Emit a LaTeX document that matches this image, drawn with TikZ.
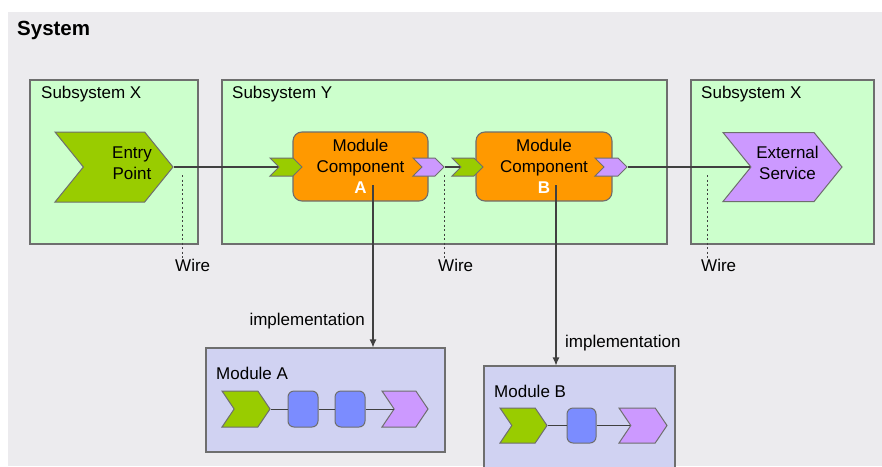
\documentclass[tikz,border=0pt]{standalone}
\usepackage{fontspec}
\setmainfont{Liberation Sans}
\usetikzlibrary{shapes.symbols,arrows.meta}

\definecolor{sysgray}{HTML}{ECEBEE}
\definecolor{subgreen}{HTML}{CCFFCC}
\definecolor{portgreen}{HTML}{99CC00}
\definecolor{portlilac}{HTML}{CC99FF}
\definecolor{comporange}{HTML}{FF9900}
\definecolor{modlilac}{HTML}{D0D2F2}
\definecolor{stepblue}{HTML}{7B8CFF}
\definecolor{edgegray}{HTML}{6E6E6E}
\definecolor{wiregray}{HTML}{404040}

\begin{document}
\begin{tikzpicture}[x=1pt, y=-1pt,
        font=\fontsize{17}{21}\selectfont,
        sub/.style={draw=edgegray, fill=subgreen, line width=1.1pt, inner sep=0pt},
        modbox/.style={draw=edgegray, fill=modlilac, line width=1.1pt, inner sep=0pt},
        comp/.style={draw=edgegray, fill=comporange, rounded corners=9pt, line width=1.1pt,
            inner sep=0pt, align=center, minimum width=135pt, minimum height=69pt},
        chev/.style={shape=signal, signal to=east, signal from=west, signal pointer angle=#1,
            draw=edgegray, line width=1pt, inner sep=0pt},
        stepbox/.style={draw=edgegray, fill=stepblue, rounded corners=6pt, line width=1pt,
            minimum width=30pt, minimum height=36pt, inner sep=0pt},
        title/.style={anchor=west, inner sep=0pt},
        wire/.style={draw=wiregray, line width=1.1pt},
        wiretag/.style={draw=wiregray, dash pattern=on 2pt off 2.5pt, line width=1pt},
        impl/.style={draw=wiregray, line width=1.1pt, -{Latex[length=8pt,width=7pt]}}
    ]
    \clip (0,0) rectangle (882,466);
    \fill[sysgray] (8,12) rectangle (882,466);
    \node[title, font=\fontsize{20.5}{24}\selectfont\bfseries] (sys) at (17,30) {System};

    % subsystems
    \node[sub, minimum width=168pt, minimum height=164pt] (subx) at (114,162) {};
    \node[sub, minimum width=445pt, minimum height=164pt] (suby) at (444.5,162) {};
    \node[sub, minimum width=183pt, minimum height=164pt] (subz) at (782.5,162) {};
    \node[title] (subxt) at (41,94) {Subsystem X};
    \node[title] (subyt) at (232,94) {Subsystem Y};
    \node[title] (subzt) at (701,94) {Subsystem X};

    % entry point and external service
    \node[chev=102, fill=portgreen, minimum width=118pt, minimum height=70pt,
        label={[align=center, xshift=18pt, yshift=4pt]center:Entry\\Point}] (entry) at (114,167) {};
    \node[chev=102, fill=portlilac, minimum width=119pt, minimum height=69pt,
        label={[align=center, xshift=5pt, yshift=4pt]center:External\\Service}] (ext) at (782.5,167) {};

    % module components
    \node[comp] (compA) at (360.5,166.5) {Module\\Component\\\textcolor{white}{\bfseries A}};
    \node[comp, minimum width=136pt] (compB) at (544,166.5) {Module\\Component\\\textcolor{white}{\bfseries B}};
    \node[chev=90, fill=portgreen, minimum width=32pt, minimum height=18pt] (inA) at (286,167) {};
    \node[chev=90, fill=portlilac, minimum width=31pt, minimum height=18pt] (outA) at (428.5,167) {};
    \node[chev=90, fill=portgreen, minimum width=31pt, minimum height=18pt] (inB) at (467.5,167) {};
    \node[chev=90, fill=portlilac, minimum width=32pt, minimum height=18pt] (outB) at (611,167) {};

    \draw[wire] (entry.east) -- (inA.west);
    \draw[wire] (outA.east) -- (inB.west);
    \draw[wire] (outB.east) -- (ext.west);

    % wire tags
    \node[title] (w1) at (175,265) {Wire};
    \node[title] (w2) at (438,265) {Wire};
    \node[title] (w3) at (701,265) {Wire};
    \coordinate (t1) at (182,175);
    \coordinate (t2) at (444,175);
    \coordinate (t3) at (707,175);
    \draw[wiretag] (t1) -- (t1 |- w1.north);
    \draw[wiretag] (t2) -- (t2 |- w2.north);
    \draw[wiretag] (t3) -- (t3 |- w3.north);

    % module A
    \node[modbox, minimum width=239pt, minimum height=104pt] (modA) at (325.5,400) {};
    \node[title] (modAt) at (216,373) {Module A};
    \node[chev=112, fill=portgreen, minimum width=48pt, minimum height=36pt] (a1) at (246,409) {};
    \node[stepbox] (a2) at (303,409) {};
    \node[stepbox] (a3) at (350,409) {};
    \node[chev=112, fill=portlilac, minimum width=46pt, minimum height=36pt] (a4) at (405,409) {};
    \draw[wire, line width=1pt] (a1.east) -- (a2.west);
    \draw[wire, line width=1pt] (a2.east) -- (a3.west);
    \draw[wire, line width=1pt] (a3.east) -- (a4.west);

    % module B
    \node[modbox, minimum width=191pt, minimum height=114pt] (modB) at (579.5,423) {};
    \node[title] (modBt) at (494,391) {Module B};
    \node[chev=112, fill=portgreen, minimum width=47pt, minimum height=35pt] (b1) at (523.5,425.5) {};
    \node[stepbox, minimum width=29pt, minimum height=35pt] (b2) at (581.5,425.5) {};
    \node[chev=112, fill=portlilac, minimum width=48pt, minimum height=35pt] (b3) at (643,425.5) {};
    \draw[wire, line width=1pt] (b1.east) -- (b2.west);
    \draw[wire, line width=1pt] (b2.east) -- (b3.west);

    % implementation links
    \coordinate (implA) at (373,185);
    \coordinate (implB) at (556,185);
    \draw[impl] (implA) -- (implA |- modA.north);
    \draw[impl] (implB) -- (implB |- modB.north);
    \node[title, anchor=east] (implAt) at (365,321) {implementation};
    \node[title] (implBt) at (565,343) {implementation};
\end{tikzpicture}
\end{document}
